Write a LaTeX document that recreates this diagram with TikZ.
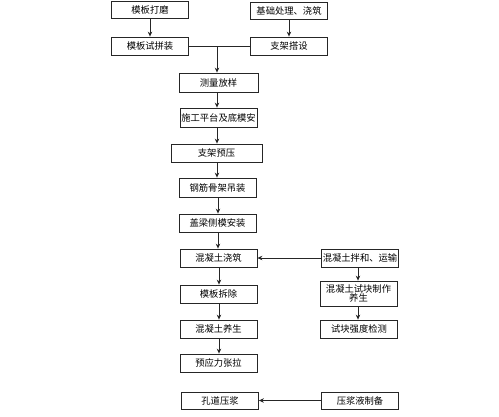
\documentclass[tikz,border=0pt]{standalone}
\usepackage{fontspec}
\newfontfamily\cjk{Noto Sans CJK SC}
\usetikzlibrary{arrows.meta}
\begin{document}
\begin{tikzpicture}[x=1pt,y=-1pt,
  box/.style={draw=black!85,line width=0.8pt,fill=white,inner sep=0pt,
    minimum width=77pt,minimum height=18pt,font=\cjk\fontsize{9.3}{11}\selectfont,align=center},
  arr/.style={draw=black!85,line width=0.8pt,-{Stealth[length=5pt,width=4.5pt]}},
  ln/.style={draw=black!85,line width=0.8pt}]
\useasboundingbox (0,0) rectangle (499,416);
\node[box,minimum height=17pt] (n1) at (150,10) {模板打磨};
\node[box,minimum height=17pt] (n2) at (289,10.5) {基础处理、浇筑};
\node[box] (n3) at (150,46) {模板试拼装};
\node[box] (n4) at (289,46) {支架搭设};
\node[box,minimum width=79pt,minimum height=19pt] (n5) at (218.5,82.5) {测量放样};
\node[box,minimum height=19pt] (n6) at (218.5,117.5) {施工平台及底模安};
\node[box,minimum width=91pt] (n7) at (216.5,153) {支架预压};
\node[box,minimum height=19pt] (n8) at (217.5,187.5) {钢筋骨架吊装};
\node[box] (n9) at (217.5,223) {盖梁侧模安装};
\node[box] (n10) at (218.5,258) {混凝土浇筑};
\node[box] (n11) at (360,258) {混凝土拌和、运输};
\node[box] (n12) at (218.5,294) {模板拆除};
\node[box,minimum height=25pt] (n13) at (358.5,293.5) {混凝土试块制作\\[-2pt]养生};
\node[box] (n14) at (218.5,329) {混凝土养生};
\node[box] (n15) at (359,329) {试块强度检测};
\node[box] (n16) at (218.5,363) {预应力张拉};
\node[box,minimum height=17pt] (n17) at (220,400.5) {孔道压浆};
\node[box,minimum height=17pt] (n18) at (360,400.5) {压浆液制备};
\draw[arr] (n1) -- (n3);
\draw[arr] (n2) -- (n4);
\draw[ln] (n3.east) -- (n4.west);
\coordinate (j) at (217,46);
\draw[arr] (j) -- (j |- n5.north);
\draw[arr] (n5.south -| j) -- (j |- n6.north);
\draw[arr] (n6.south -| j) -- (j |- n7.north);
\draw[arr] (n7.south -| j) -- (j |- n8.north);
\coordinate (k) at (218,0);
\draw[arr] (n8.south -| k) -- (k |- n9.north);
\draw[arr] (n9.south -| k) -- (k |- n10.north);
\coordinate (m) at (219,0);
\draw[arr] (n10.south -| m) -- (m |- n12.north);
\draw[arr] (n12.south -| m) -- (m |- n14.north);
\draw[arr] (n14.south -| m) -- (m |- n16.north);
\draw[arr] (n11.west) -- (n10.east);
\draw[arr] (n18.west) -- (n17.east);
\coordinate (r) at (358,0);
\draw[arr] (n11.south -| r) -- (r |- n13.north);
\draw[arr] (n13.south -| r) -- (r |- n15.north);
\end{tikzpicture}
\end{document}
